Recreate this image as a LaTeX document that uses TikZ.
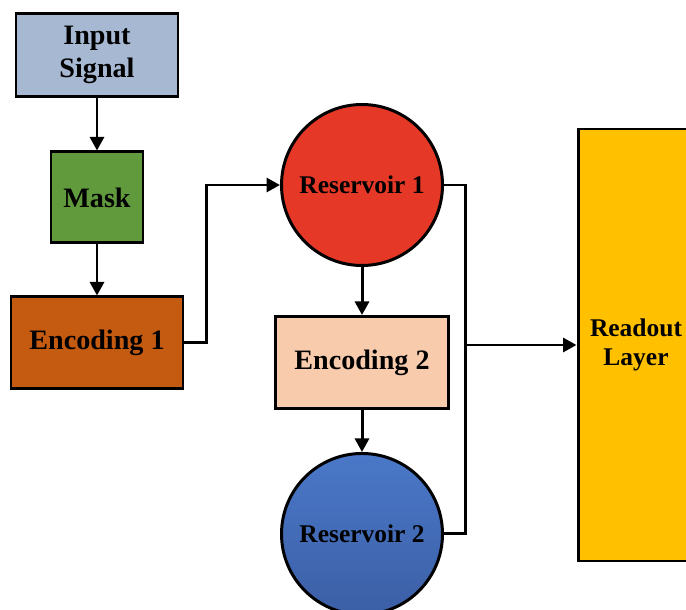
\documentclass[tikz,border=0pt]{standalone}
\usepackage{fontspec}
\setmainfont{Liberation Serif}
\usepackage{tikz}
\usetikzlibrary{arrows.meta, positioning, calc}
\definecolor{inputblue}{HTML}{A7B9D2}
\definecolor{maskgreen}{HTML}{609A3D}
\definecolor{encorange}{HTML}{C55A11}
\definecolor{encpeach}{HTML}{F8CBAD}
\definecolor{resred}{HTML}{E53826}
\definecolor{resbluetop}{HTML}{4A78C8}
\definecolor{resbluebot}{HTML}{3C5FA6}
\definecolor{readoutgold}{HTML}{FFC000}

\begin{document}
\begin{tikzpicture}[
    node distance=1.05cm and 1.0cm,
    blockbox/.style={draw=black, line width=1.7pt, align=center, inner sep=2pt,
                     font=\fontsize{16}{19}\selectfont\bfseries},
    resnode/.style={circle, draw=black, line width=1.7pt, minimum size=3.22cm, inner sep=0pt,
                    align=center, font=\fontsize{14.5}{16.5}\selectfont\bfseries},
    conn/.style={-{Triangle[length=2.7mm, width=2.8mm]}, line width=1.7pt, black},
    wire/.style={line width=1.7pt, black}
]
    \useasboundingbox (0,0) rectangle (13.72,12.18);
    \node[blockbox, fill=inputblue, minimum width=3.24cm, minimum height=1.66cm] (input) at (1.94,11.08) {Input\\Signal};
    \node[blockbox, fill=maskgreen, minimum width=1.84cm, minimum height=1.82cm, below=1.05cm of input] (mask) {Mask};
    \node[blockbox, fill=encorange, minimum width=3.44cm, minimum height=1.84cm, below=1.02cm of mask] (enc1) {Encoding 1};
    \node[resnode, fill=resred] (res1) at (7.24,8.48) {Reservoir 1};
    \node[blockbox, fill=encpeach, minimum width=3.46cm, minimum height=1.84cm, below=0.96cm of res1] (enc2) {Encoding 2};
    \node[resnode, top color=resbluetop, bottom color=resbluebot, below=0.84cm of enc2] (res2) {Reservoir 2};
    \coordinate (bus) at (9.3,5.28);
    \node[blockbox, fill=readoutgold, minimum width=2.32cm, minimum height=8.64cm,
          font=\fontsize{14.5}{16.5}\selectfont\bfseries] (readout) at (12.72,5.28) {Readout\\Layer};

    \draw[conn] (input) -- (mask);
    \draw[conn] (mask) -- (enc1);
    \draw[conn] (enc1.east) -- ++(0.44,0) |- (res1.west);
    \draw[conn] (res1) -- (enc2);
    \draw[conn] (enc2) -- (res2);
    \draw[wire] (res1.east) -| (bus) |- (res2.east);
    \draw[conn] (bus) -- (readout.west);
\end{tikzpicture}
\end{document}
